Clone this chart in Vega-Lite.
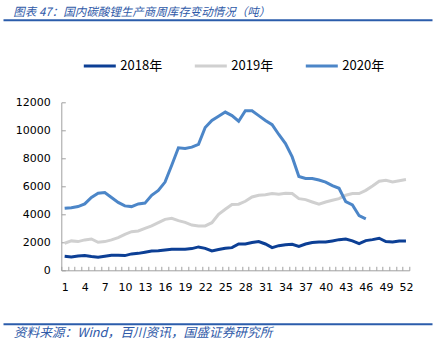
{
  "$schema": "https://vega.github.io/schema/vega-lite/v6.json",
  "width": 348,
  "height": 168,
  "autosize": {"type": "none"},
  "padding": {"left": 61.3, "top": 102.3, "right": 27.7, "bottom": 83.7},
  "background": "white",
  "title": {
    "text": "图表 47：国内碳酸锂生产商周库存变动情况（吨）",
    "anchor": "start",
    "frame": "group",
    "dx": -48,
    "offset": 1,
    "font": "Noto Sans CJK SC",
    "fontSize": 11.5,
    "fontStyle": "italic",
    "fontWeight": "normal",
    "color": "#2f5aa8"
  },
  "config": {
    "view": {"stroke": null},
    "font": "DejaVu Sans",
    "axisY": {"labelOverlap": false, "values": [0, 2000, 4000, 6000, 8000, 10000, 12000], "format": "d", "labelFont": "DejaVu Sans", "labelFontSize": 11, "labelColor": "#000000", "labelPadding": 15, "tickSize": -4, "tickColor": "#a0a0a0", "domainColor": "#a0a0a0", "grid": false}
  },
  "datasets": {
    "inv": [
      {"week": 1, "year": "2018年", "v": 1000}, {"week": 2, "year": "2018年", "v": 950}, {"week": 3, "year": "2018年", "v": 1020}, {"week": 4, "year": "2018年", "v": 1050}, {"week": 5, "year": "2018年", "v": 980}, {"week": 6, "year": "2018年", "v": 930}, {"week": 7, "year": "2018年", "v": 1000}, {"week": 8, "year": "2018年", "v": 1070}, {"week": 9, "year": "2018年", "v": 1070}, {"week": 10, "year": "2018年", "v": 1050},
      {"week": 11, "year": "2018年", "v": 1170}, {"week": 12, "year": "2018年", "v": 1210}, {"week": 13, "year": "2018年", "v": 1290}, {"week": 14, "year": "2018年", "v": 1380}, {"week": 15, "year": "2018年", "v": 1400}, {"week": 16, "year": "2018年", "v": 1450}, {"week": 17, "year": "2018年", "v": 1500}, {"week": 18, "year": "2018年", "v": 1500}, {"week": 19, "year": "2018年", "v": 1500}, {"week": 20, "year": "2018年", "v": 1550},
      {"week": 21, "year": "2018年", "v": 1670}, {"week": 22, "year": "2018年", "v": 1570}, {"week": 23, "year": "2018年", "v": 1380}, {"week": 24, "year": "2018年", "v": 1480}, {"week": 25, "year": "2018年", "v": 1570}, {"week": 26, "year": "2018年", "v": 1620}, {"week": 27, "year": "2018年", "v": 1880}, {"week": 28, "year": "2018年", "v": 1880}, {"week": 29, "year": "2018年", "v": 1980}, {"week": 30, "year": "2018年", "v": 2050},
      {"week": 31, "year": "2018年", "v": 1880}, {"week": 32, "year": "2018年", "v": 1620}, {"week": 33, "year": "2018年", "v": 1760}, {"week": 34, "year": "2018年", "v": 1830}, {"week": 35, "year": "2018年", "v": 1860}, {"week": 36, "year": "2018年", "v": 1710}, {"week": 37, "year": "2018年", "v": 1880}, {"week": 38, "year": "2018年", "v": 1980}, {"week": 39, "year": "2018年", "v": 2020}, {"week": 40, "year": "2018年", "v": 2020},
      {"week": 41, "year": "2018年", "v": 2100}, {"week": 42, "year": "2018年", "v": 2190}, {"week": 43, "year": "2018年", "v": 2240}, {"week": 44, "year": "2018年", "v": 2100}, {"week": 45, "year": "2018年", "v": 1900}, {"week": 46, "year": "2018年", "v": 2120}, {"week": 47, "year": "2018年", "v": 2190}, {"week": 48, "year": "2018年", "v": 2290}, {"week": 49, "year": "2018年", "v": 2050}, {"week": 50, "year": "2018年", "v": 2020}, {"week": 51, "year": "2018年", "v": 2100}, {"week": 52, "year": "2018年", "v": 2100},
      {"week": 1, "year": "2019年", "v": 1930}, {"week": 2, "year": "2019年", "v": 2100}, {"week": 3, "year": "2019年", "v": 2050}, {"week": 4, "year": "2019年", "v": 2170}, {"week": 5, "year": "2019年", "v": 2240}, {"week": 6, "year": "2019年", "v": 2000}, {"week": 7, "year": "2019年", "v": 2050}, {"week": 8, "year": "2019年", "v": 2170}, {"week": 9, "year": "2019年", "v": 2330}, {"week": 10, "year": "2019年", "v": 2570},
      {"week": 11, "year": "2019年", "v": 2760}, {"week": 12, "year": "2019年", "v": 2810}, {"week": 13, "year": "2019年", "v": 3000}, {"week": 14, "year": "2019年", "v": 3170}, {"week": 15, "year": "2019年", "v": 3400}, {"week": 16, "year": "2019年", "v": 3640}, {"week": 17, "year": "2019年", "v": 3710}, {"week": 18, "year": "2019年", "v": 3550}, {"week": 19, "year": "2019年", "v": 3420}, {"week": 20, "year": "2019年", "v": 3230},
      {"week": 21, "year": "2019年", "v": 3170}, {"week": 22, "year": "2019年", "v": 3170}, {"week": 23, "year": "2019年", "v": 3400}, {"week": 24, "year": "2019年", "v": 4000}, {"week": 25, "year": "2019年", "v": 4360}, {"week": 26, "year": "2019年", "v": 4700}, {"week": 27, "year": "2019年", "v": 4720}, {"week": 28, "year": "2019年", "v": 4930}, {"week": 29, "year": "2019年", "v": 5240}, {"week": 30, "year": "2019年", "v": 5360},
      {"week": 31, "year": "2019年", "v": 5400}, {"week": 32, "year": "2019年", "v": 5480}, {"week": 33, "year": "2019年", "v": 5430}, {"week": 34, "year": "2019年", "v": 5500}, {"week": 35, "year": "2019年", "v": 5480}, {"week": 36, "year": "2019年", "v": 5120}, {"week": 37, "year": "2019年", "v": 5050}, {"week": 38, "year": "2019年", "v": 4880}, {"week": 39, "year": "2019年", "v": 4720}, {"week": 40, "year": "2019年", "v": 4880},
      {"week": 41, "year": "2019年", "v": 5000}, {"week": 42, "year": "2019年", "v": 5120}, {"week": 43, "year": "2019年", "v": 5360}, {"week": 44, "year": "2019年", "v": 5480}, {"week": 45, "year": "2019年", "v": 5480}, {"week": 46, "year": "2019年", "v": 5710}, {"week": 47, "year": "2019年", "v": 6020}, {"week": 48, "year": "2019年", "v": 6360}, {"week": 49, "year": "2019年", "v": 6430}, {"week": 50, "year": "2019年", "v": 6310}, {"week": 51, "year": "2019年", "v": 6400}, {"week": 52, "year": "2019年", "v": 6480},
      {"week": 1, "year": "2020年", "v": 4430}, {"week": 2, "year": "2020年", "v": 4470}, {"week": 3, "year": "2020年", "v": 4550}, {"week": 4, "year": "2020年", "v": 4740}, {"week": 5, "year": "2020年", "v": 5200}, {"week": 6, "year": "2020年", "v": 5500}, {"week": 7, "year": "2020年", "v": 5550}, {"week": 8, "year": "2020年", "v": 5200}, {"week": 9, "year": "2020年", "v": 4850}, {"week": 10, "year": "2020年", "v": 4600},
      {"week": 11, "year": "2020年", "v": 4550}, {"week": 12, "year": "2020年", "v": 4740}, {"week": 13, "year": "2020年", "v": 4800}, {"week": 14, "year": "2020年", "v": 5360}, {"week": 15, "year": "2020年", "v": 5700}, {"week": 16, "year": "2020年", "v": 6300}, {"week": 17, "year": "2020年", "v": 7500}, {"week": 18, "year": "2020年", "v": 8750}, {"week": 19, "year": "2020年", "v": 8700}, {"week": 20, "year": "2020年", "v": 8800},
      {"week": 21, "year": "2020年", "v": 9000}, {"week": 22, "year": "2020年", "v": 10200}, {"week": 23, "year": "2020年", "v": 10700}, {"week": 24, "year": "2020年", "v": 11000}, {"week": 25, "year": "2020年", "v": 11300}, {"week": 26, "year": "2020年", "v": 11050}, {"week": 27, "year": "2020年", "v": 10650}, {"week": 28, "year": "2020年", "v": 11400}, {"week": 29, "year": "2020年", "v": 11400}, {"week": 30, "year": "2020年", "v": 11050},
      {"week": 31, "year": "2020年", "v": 10700}, {"week": 32, "year": "2020年", "v": 10400}, {"week": 33, "year": "2020年", "v": 9700}, {"week": 34, "year": "2020年", "v": 9050}, {"week": 35, "year": "2020年", "v": 8100}, {"week": 36, "year": "2020年", "v": 6700}, {"week": 37, "year": "2020年", "v": 6560}, {"week": 38, "year": "2020年", "v": 6560}, {"week": 39, "year": "2020年", "v": 6450}, {"week": 40, "year": "2020年", "v": 6300},
      {"week": 41, "year": "2020年", "v": 6050}, {"week": 42, "year": "2020年", "v": 5860}, {"week": 43, "year": "2020年", "v": 4900}, {"week": 44, "year": "2020年", "v": 4670}, {"week": 45, "year": "2020年", "v": 3900}, {"week": 46, "year": "2020年", "v": 3670}
    ]
  },
  "data": {"name": "inv"},
  "layer": [
    {
      "mark": {"type": "line", "strokeWidth": 3},
      "encoding": {
        "x": {
          "field": "week", "type": "quantitative",
          "scale": {"domain": [0.5, 52.5], "nice": false, "zero": false},
          "axis": {
            "values": [0.5,1.5,2.5,3.5,4.5,5.5,6.5,7.5,8.5,9.5,10.5,11.5,12.5,13.5,14.5,15.5,16.5,17.5,18.5,19.5,20.5,21.5,22.5,23.5,24.5,25.5,26.5,27.5,28.5,29.5,30.5,31.5,32.5,33.5,34.5,35.5,36.5,37.5,38.5,39.5,40.5,41.5,42.5,43.5,44.5,45.5,46.5,47.5,48.5,49.5,50.5,51.5,52.5],
            "labelExpr": "(datum.value - 0.5) % 3 == 0 ? format(datum.value + 0.5, 'd') : ''",
            "labelOffset": 3.35,
            "labelOverlap": false,
            "labelFlush": false,
            "labelFont": "DejaVu Sans",
            "labelFontSize": 11,
            "labelColor": "#000000",
            "labelPadding": 15,
            "tickSize": -4,
            "tickColor": "#a0a0a0",
            "domainColor": "#a0a0a0",
            "grid": false,
            "title": "资料来源：Wind，百川资讯，国盛证券研究所",
            "titleFont": "Noto Sans CJK SC",
            "titleFontStyle": "italic",
            "titleFontWeight": "normal",
            "titleFontSize": 12.7,
            "titleColor": "#2f5aa8",
            "titleAnchor": "start",
            "titleAlign": "left",
            "titleBaseline": "middle",
            "titleX": -48,
            "titleY": 62
          }
        },
        "y": {
          "field": "v", "type": "quantitative",
          "scale": {"domain": [0, 12000], "nice": false},
          "axis": {"title": null}
        },
        "color": {
          "field": "year", "type": "nominal",
          "scale": {"domain": ["2018年", "2019年", "2020年"], "range": ["#0c3f95", "#d0d0d0", "#4c86c8"]},
          "legend": {
            "title": null,
            "orient": "none",
            "direction": "horizontal",
            "legendX": 21,
            "legendY": -54,
            "padding": 0,
            "symbolType": "stroke",
            "symbolSize": 1024,
            "symbolStrokeWidth": 3,
            "labelFont": "Noto Sans CJK SC",
            "labelFontSize": 13,
            "labelColor": "#000000",
            "labelOffset": 3,
            "columnPadding": 26
          }
        }
      }
    },
    {
      "mark": {"type": "line", "strokeOpacity": 0},
      "encoding": {
        "x": {
          "field": "week", "type": "quantitative",
          "scale": {"domain": [0.5, 52.5], "nice": false, "zero": false, "range": [-58.3, 370.7]},
          "axis": {"orient": "top", "offset": 82.5, "domainColor": "#2b5cab", "domainWidth": 2, "ticks": false, "labels": false, "grid": false, "title": null}
        },
        "y": {"field": "v", "type": "quantitative", "axis": {"title": null}},
        "detail": {"field": "year"}
      }
    },
    {
      "mark": {"type": "line", "strokeOpacity": 0},
      "encoding": {
        "x": {
          "field": "week", "type": "quantitative",
          "scale": {"domain": [0.5, 52.5], "nice": false, "zero": false, "range": [-58.3, 370.7]},
          "axis": {"orient": "bottom", "offset": 53.5, "domainColor": "#2b5cab", "domainWidth": 2, "ticks": false, "labels": false, "grid": false, "title": null}
        },
        "y": {"field": "v", "type": "quantitative", "axis": {"title": null}},
        "detail": {"field": "year"}
      }
    }
  ],
  "resolve": {"scale": {"x": "independent"}, "axis": {"x": "independent"}}
}
